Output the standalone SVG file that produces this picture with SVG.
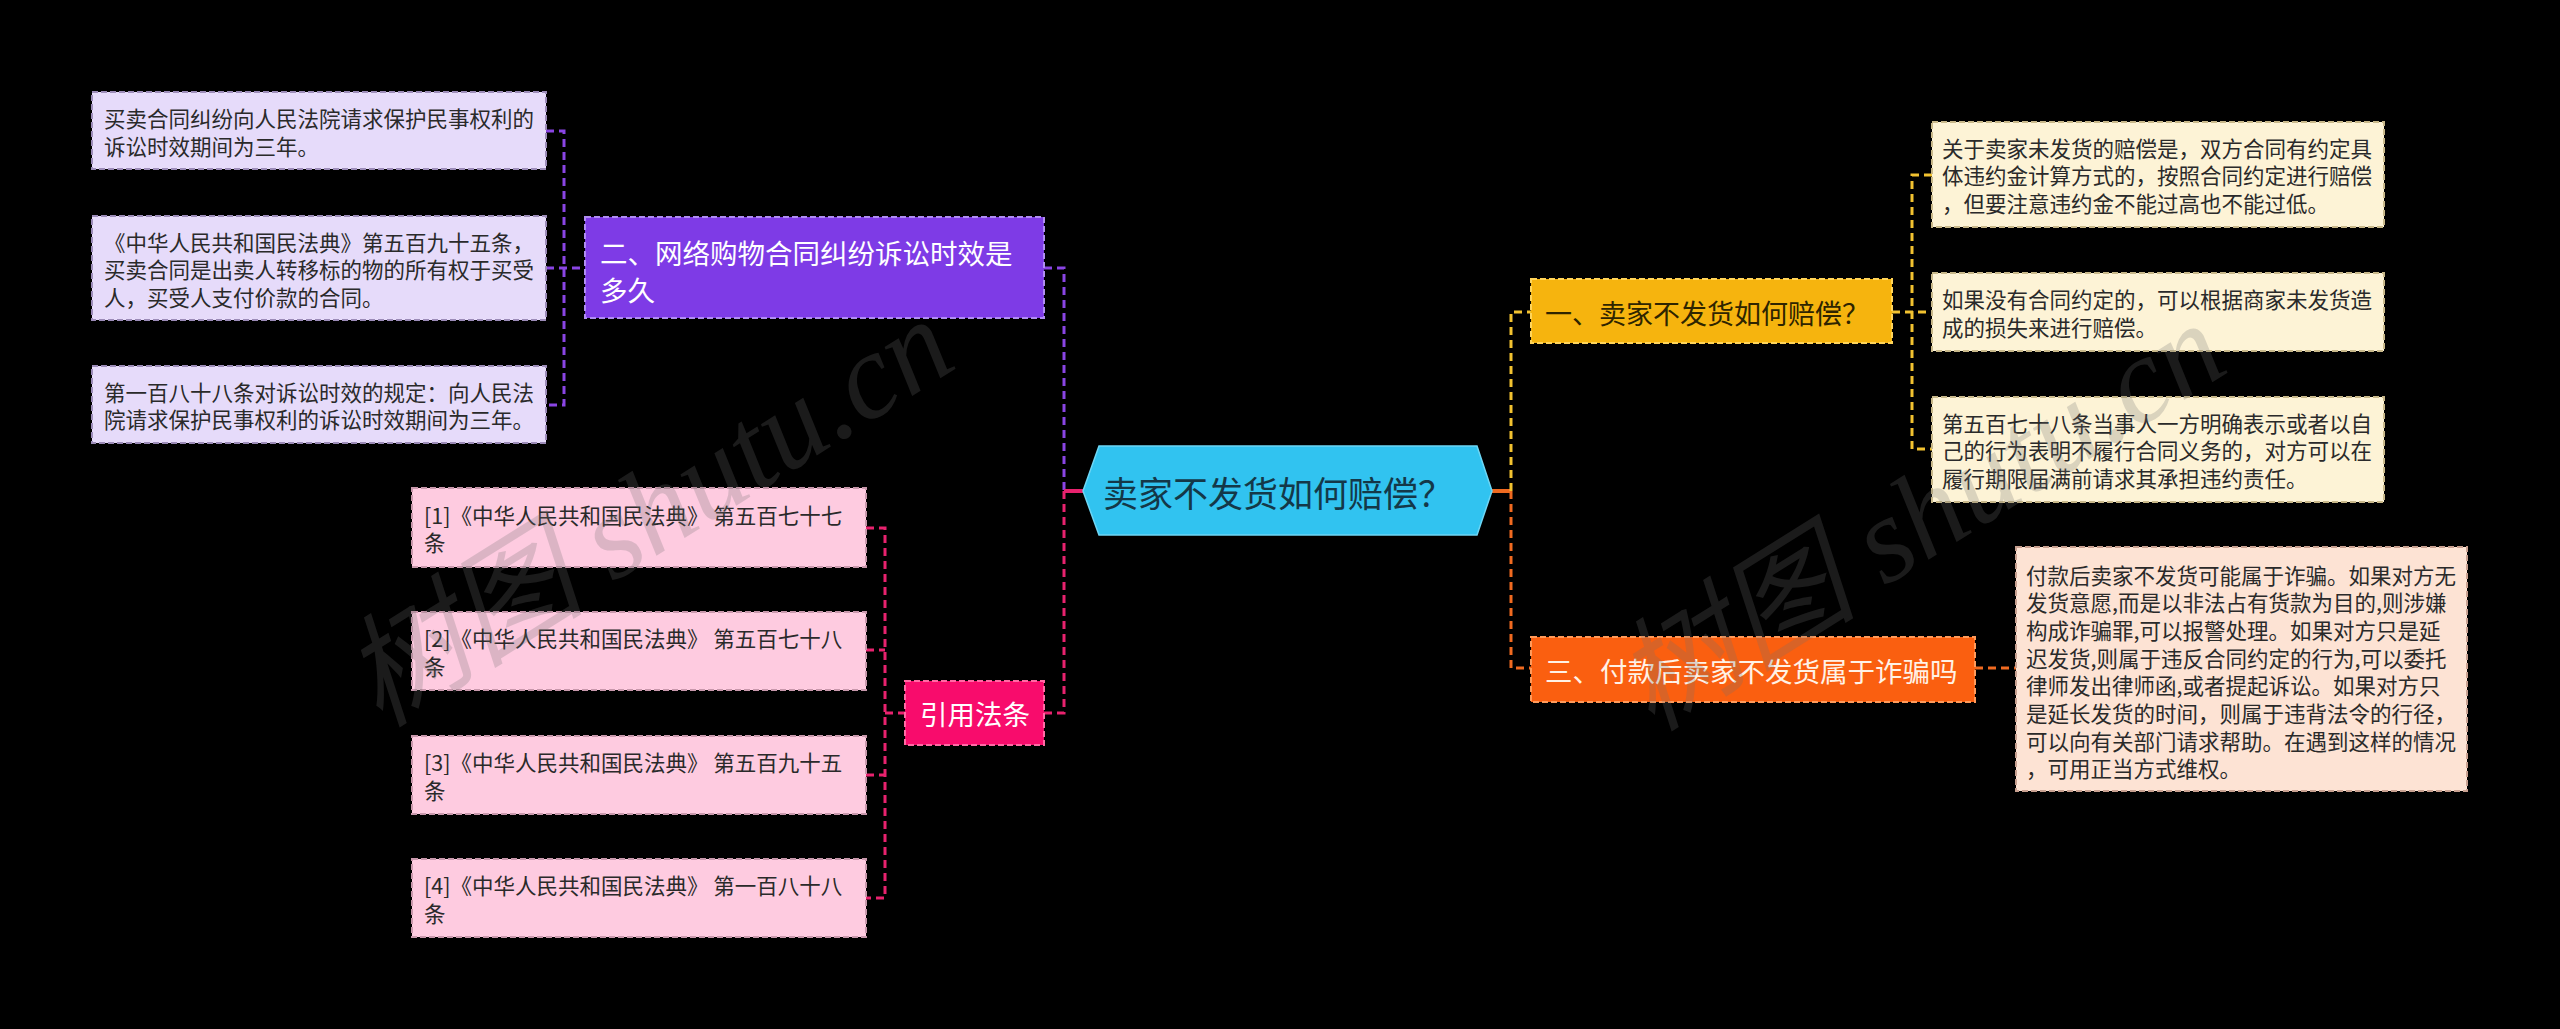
<svg xmlns="http://www.w3.org/2000/svg" width="2560" height="1029" viewBox="0 0 2560 1029">
<style>
text{font-family:"Noto Sans CJK SC","Noto Sans",sans-serif;dominant-baseline:central}
.leaf{font-size:21.5px;fill:#2a2a2a}
.main{font-size:27.5px}
.c{fill:none;stroke-width:3;stroke-dasharray:8 5}
.solid{fill:none;stroke-width:4}
.pl{fill:#e6dbfa;stroke:#9c8cb8;stroke-width:2;stroke-dasharray:6 3}
.pk{fill:#fecbe0;stroke:#c898ac;stroke-width:2;stroke-dasharray:6 3}
.yl{fill:#fdf3d6;stroke:#c8b88a;stroke-width:2;stroke-dasharray:6 3}
.ol{fill:#fde3d4;stroke:#c8a090;stroke-width:2;stroke-dasharray:6 3}
.wm{font-family:"Liberation Serif","Noto Sans CJK SC",serif;font-style:italic;font-size:122px;fill:#707070;opacity:0.24}
</style>
<rect x="0" y="0" width="2560" height="1029" fill="#000"/>
<g id="connectors">
<path class="c" stroke="#8a45e4" d="M546,131 H564 V405 H546 M546,268 H585 M1044,268 H1064 V491"/>
<path class="c" stroke="#e8226e" d="M866,528 H885 V898 H866 M866,650 H885 M866,775 H885 M885,713 H905 M1044,713 H1064 V491"/>
<path class="solid" stroke="#e8226e" d="M1064,491 H1083"/>
<path class="solid" stroke="#f06a20" d="M1492,491 H1511"/>
<path class="c" stroke="#f2c230" d="M1511,491 V312 H1531 M1892,312 H1932 M1932,175 H1912 V449 H1932"/>
<path class="c" stroke="#f06a20" d="M1511,491 V668 H1531 M1975,668 H2016"/>
</g>
<g id="root">
<polygon points="1099,446 1477,446 1492,491 1477,535 1099,535 1083,491" fill="#31c3f0" stroke="#6dd6f5" stroke-width="1.5"/>
<text x="1103" y="491" style="font-size:35px;fill:#143848">卖家不发货如何赔偿？</text>
</g>
<g id="n2">
<rect x="585" y="217" width="459" height="101" fill="#7e3be6" stroke="#b08cf2" stroke-width="2" stroke-dasharray="6 3"/>
<text class="main" x="600" y="252" fill="#fff">二、网络购物合同纠纷诉讼时效是</text>
<text class="main" x="600" y="289" fill="#fff">多久</text>
</g>
<g id="n2a">
<rect class="pl" x="92" y="92" width="454" height="77"/>
<text class="leaf" x="104" y="117.5">买卖合同纠纷向人民法院请求保护民事权利的</text>
<text class="leaf" x="104" y="145">诉讼时效期间为三年。</text>
</g>
<g id="n2b">
<rect class="pl" x="92" y="216" width="454" height="104"/>
<text class="leaf" x="104" y="241">《中华人民共和国民法典》第五百九十五条，</text>
<text class="leaf" x="104" y="268.5">买卖合同是出卖人转移标的物的所有权于买受</text>
<text class="leaf" x="104" y="296">人，买受人支付价款的合同。</text>
</g>
<g id="n2c">
<rect class="pl" x="92" y="366" width="454" height="77"/>
<text class="leaf" x="104" y="391">第一百八十八条对诉讼时效的规定：向人民法</text>
<text class="leaf" x="104" y="418.5">院请求保护民事权利的诉讼时效期间为三年。</text>
</g>
<g id="n4">
<rect x="905" y="681" width="139" height="64" fill="#f80c6c" stroke="#ff6aa4" stroke-width="2" stroke-dasharray="6 3"/>
<text class="main" x="975" y="713" fill="#fff" text-anchor="middle">引用法条</text>
</g>
<g id="n4a">
<rect class="pk" x="412" y="488" width="454" height="79"/>
<text class="leaf" x="424" y="514">[1]《中华人民共和国民法典》 第五百七十七</text>
<text class="leaf" x="424" y="541.5">条</text>
</g>
<g id="n4b">
<rect class="pk" x="412" y="612" width="454" height="78"/>
<text class="leaf" x="424" y="637.5">[2]《中华人民共和国民法典》 第五百七十八</text>
<text class="leaf" x="424" y="665">条</text>
</g>
<g id="n4c">
<rect class="pk" x="412" y="736" width="454" height="78"/>
<text class="leaf" x="424" y="761.5">[3]《中华人民共和国民法典》 第五百九十五</text>
<text class="leaf" x="424" y="789">条</text>
</g>
<g id="n4d">
<rect class="pk" x="412" y="859" width="454" height="78"/>
<text class="leaf" x="424" y="884.5">[4]《中华人民共和国民法典》 第一百八十八</text>
<text class="leaf" x="424" y="912">条</text>
</g>
<g id="n1">
<rect x="1531" y="279" width="361" height="64" fill="#f6b40e" stroke="#ffd45a" stroke-width="2" stroke-dasharray="6 3"/>
<text class="main" x="1545" y="312" style="font-size:27px" fill="#2e2400">一、卖家不发货如何赔偿？</text>
</g>
<g id="n1a">
<rect class="yl" x="1932" y="122" width="452" height="105"/>
<text class="leaf" x="1942" y="147">关于卖家未发货的赔偿是，双方合同有约定具</text>
<text class="leaf" x="1942" y="174.5">体违约金计算方式的，按照合同约定进行赔偿</text>
<text class="leaf" x="1942" y="202">，但要注意违约金不能过高也不能过低。</text>
</g>
<g id="n1b">
<rect class="yl" x="1932" y="273" width="452" height="78"/>
<text class="leaf" x="1942" y="298.5">如果没有合同约定的，可以根据商家未发货造</text>
<text class="leaf" x="1942" y="326">成的损失来进行赔偿。</text>
</g>
<g id="n1c">
<rect class="yl" x="1932" y="397" width="452" height="105"/>
<text class="leaf" x="1942" y="422">第五百七十八条当事人一方明确表示或者以自</text>
<text class="leaf" x="1942" y="449.5">己的行为表明不履行合同义务的，对方可以在</text>
<text class="leaf" x="1942" y="477">履行期限届满前请求其承担违约责任。</text>
</g>
<g id="n3">
<rect x="1531" y="637" width="444" height="65" fill="#fa5f10" stroke="#ff9a5a" stroke-width="2" stroke-dasharray="6 3"/>
<text class="main" x="1545" y="670" fill="#fff2e6">三、付款后卖家不发货属于诈骗吗</text>
</g>
<g id="n3a">
<rect class="ol" x="2016" y="547" width="451" height="244"/>
<text class="leaf" x="2026" y="574">付款后卖家不发货可能属于诈骗。如果对方无</text>
<text class="leaf" x="2026" y="601.7">发货意愿,而是以非法占有货款为目的,则涉嫌</text>
<text class="leaf" x="2026" y="629.4">构成诈骗罪,可以报警处理。如果对方只是延</text>
<text class="leaf" x="2026" y="657.1">迟发货,则属于违反合同约定的行为,可以委托</text>
<text class="leaf" x="2026" y="684.8">律师发出律师函,或者提起诉讼。如果对方只</text>
<text class="leaf" x="2026" y="712.5">是延长发货的时间，则属于违背法令的行径，</text>
<text class="leaf" x="2026" y="740.2">可以向有关部门请求帮助。在遇到这样的情况</text>
<text class="leaf" x="2026" y="767.9">，可用正当方式维权。</text>
</g>
<g id="watermark">
<text class="wm" x="0" y="0" text-anchor="middle" transform="translate(648,512) rotate(-32)">树图 shutu.cn</text>
<text class="wm" x="0" y="0" text-anchor="middle" transform="translate(1920,516) rotate(-32)">树图 shutu.cn</text>
</g>
</svg>
